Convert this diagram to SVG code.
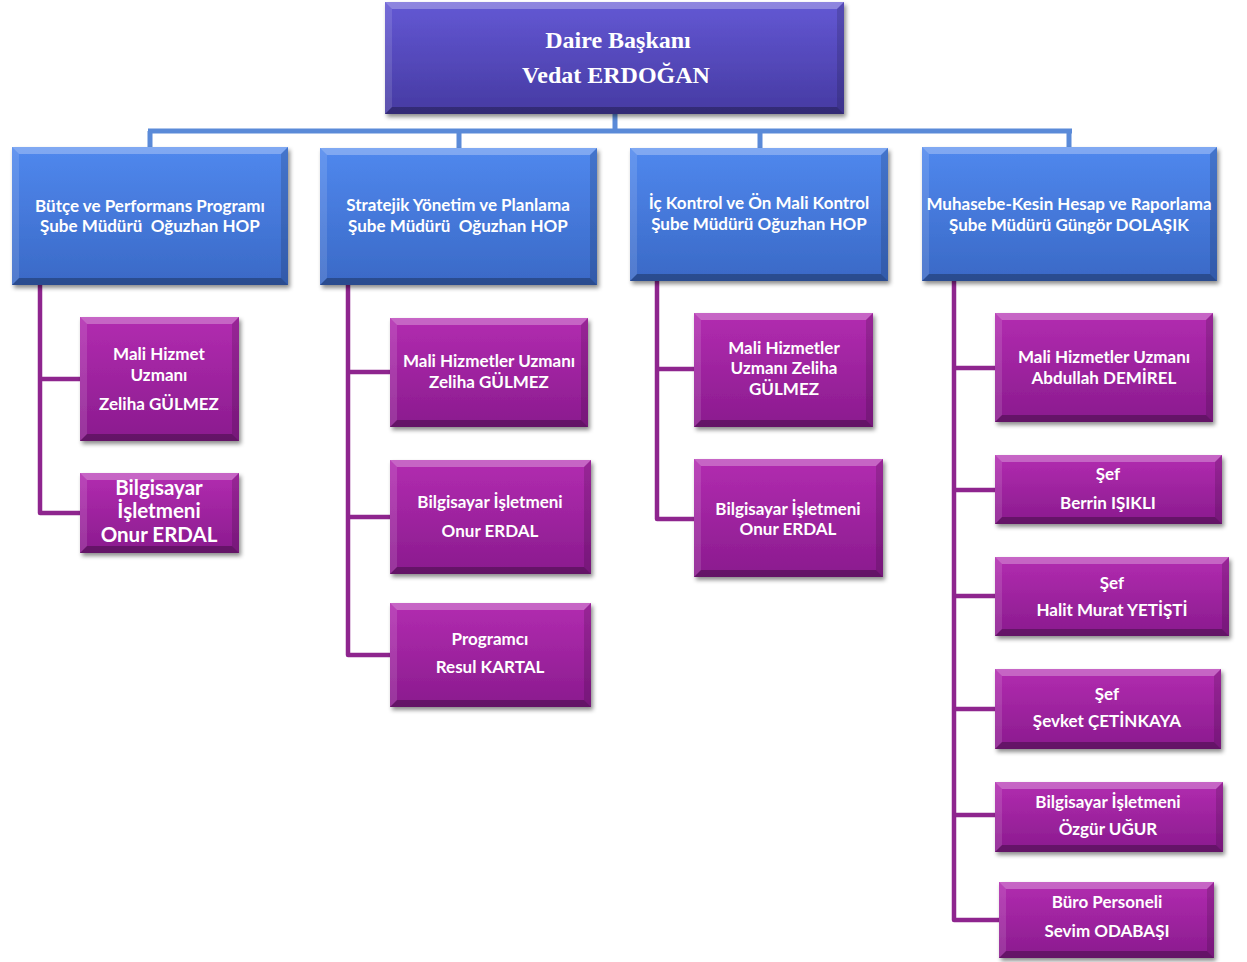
<svg xmlns="http://www.w3.org/2000/svg" width="1247" height="962" viewBox="0 0 1247 962">
<defs>
<linearGradient id="gTop" x1="0" y1="0" x2="0" y2="1"><stop offset="0" stop-color="#6358D4"/><stop offset="1" stop-color="#463AA2"/></linearGradient>
<linearGradient id="gBlue" x1="0" y1="0" x2="0" y2="1"><stop offset="0" stop-color="#5088EE"/><stop offset="1" stop-color="#3A69C6"/></linearGradient>
<linearGradient id="gPur" x1="0" y1="0" x2="0" y2="1"><stop offset="0" stop-color="#B22CB0"/><stop offset="1" stop-color="#8A1B8E"/></linearGradient>
<filter id="sh" x="-10%" y="-10%" width="125%" height="130%"><feDropShadow dx="2" dy="3" stdDeviation="2.2" flood-color="#000" flood-opacity="0.45"/></filter>
</defs>
<style>
.top rect{fill:url(#gTop)}
.blue rect{fill:url(#gBlue)}
.pur rect{fill:url(#gPur)}
.node rect{filter:url(#sh)}
.bt{fill:#fff;fill-opacity:0.28}
.bl{fill:#fff;fill-opacity:0.12}
.br{fill:#000;fill-opacity:0.14}
.bb{fill:#000;fill-opacity:0.28}
text{fill:#fff;text-anchor:middle;font-family:Lato,"Liberation Sans",sans-serif;font-weight:bold;font-size:17px}
.top text{font-family:"Liberation Serif","Times New Roman",serif;font-size:24px}
.big{font-size:20.5px}
.cb{fill:none;stroke:#5A8AD8;stroke-width:5}
.cp{fill:none;stroke:#8E258E;stroke-width:4.5;stroke-linejoin:round}
</style>

<g id="connectors">
<path class="cb" d="M615 114 V131 M148 131 H1072 M150 131 V147 M459 131 V148 M760 131 V148 M1069 131 V147"/>
<path class="cp" d="M40 285 V513 H80 M40 379 H80"/>
<path class="cp" d="M348 285 V655 H390 M348 372 H390 M348 517 H390"/>
<path class="cp" d="M657 281 V519 H694 M657 369 H694"/>
<path class="cp" d="M954 281 V920 H999 M954 368 H995 M954 490 H995 M954 596 H995 M954 709 H995 M954 815 H995"/>
</g>

<g id="daire" class="node top" transform="translate(385,2)">
<rect width="459" height="112"/>
<path class="bt" d="M0 0 h459 l-7 7 h-445 z"/><path class="bb" d="M0 112 h459 l-7 -7 h-445 z"/>
<path class="bl" d="M0 0 v112 l7 -7 v-98 z"/><path class="br" d="M459 0 v112 l-7 -7 v-98 z"/>
<text x="233" y="46">Daire Başkanı</text><text x="231" y="81">Vedat ERDOĞAN</text>
</g>

<g id="butce" class="node blue" transform="translate(12,147)">
<rect width="276" height="138"/>
<path class="bt" d="M0 0 h276 l-7 7 h-262 z"/><path class="bb" d="M0 138 h276 l-7 -7 h-262 z"/>
<path class="bl" d="M0 0 v138 l7 -7 v-124 z"/><path class="br" d="M276 0 v138 l-7 -7 v-124 z"/>
<text x="138" y="65">Bütçe ve Performans Programı</text><text x="138" y="85" xml:space="preserve">Şube Müdürü  Oğuzhan HOP</text>
</g>

<g id="stratejik" class="node blue" transform="translate(320,148)">
<rect width="277" height="137"/>
<path class="bt" d="M0 0 h277 l-7 7 h-263 z"/><path class="bb" d="M0 137 h277 l-7 -7 h-263 z"/>
<path class="bl" d="M0 0 v137 l7 -7 v-123 z"/><path class="br" d="M277 0 v137 l-7 -7 v-123 z"/>
<text x="138" y="63">Stratejik Yönetim ve Planlama</text><text x="138" y="84" xml:space="preserve">Şube Müdürü  Oğuzhan HOP</text>
</g>

<g id="ickontrol" class="node blue" transform="translate(630,148)">
<rect width="258" height="133"/>
<path class="bt" d="M0 0 h258 l-7 7 h-244 z"/><path class="bb" d="M0 133 h258 l-7 -7 h-244 z"/>
<path class="bl" d="M0 0 v133 l7 -7 v-119 z"/><path class="br" d="M258 0 v133 l-7 -7 v-119 z"/>
<text x="129" y="61">İç Kontrol ve Ön Mali Kontrol</text><text x="129" y="82">Şube Müdürü Oğuzhan HOP</text>
</g>

<g id="muhasebe" class="node blue" transform="translate(922,147)">
<rect width="295" height="134"/>
<path class="bt" d="M0 0 h295 l-7 7 h-281 z"/><path class="bb" d="M0 134 h295 l-7 -7 h-281 z"/>
<path class="bl" d="M0 0 v134 l7 -7 v-120 z"/><path class="br" d="M295 0 v134 l-7 -7 v-120 z"/>
<text x="147" y="63">Muhasebe-Kesin Hesap ve Raporlama</text><text x="147" y="84">Şube Müdürü Güngör DOLAŞIK</text>
</g>

<g id="p1a" class="node pur" transform="translate(80,317)">
<rect width="159" height="124"/>
<path class="bt" d="M0 0 h159 l-7 7 h-145 z"/><path class="bb" d="M0 124 h159 l-7 -7 h-145 z"/>
<path class="bl" d="M0 0 v124 l7 -7 v-110 z"/><path class="br" d="M159 0 v124 l-7 -7 v-110 z"/>
<text x="79" y="43">Mali Hizmet</text><text x="79" y="64">Uzmanı</text><text x="79" y="93">Zeliha GÜLMEZ</text>
</g>

<g id="p1b" class="node pur" transform="translate(80,473)">
<rect width="159" height="80"/>
<path class="bt" d="M0 0 h159 l-7 7 h-145 z"/><path class="bb" d="M0 80 h159 l-7 -7 h-145 z"/>
<path class="bl" d="M0 0 v80 l7 -7 v-66 z"/><path class="br" d="M159 0 v80 l-7 -7 v-66 z"/>
<text class="big" x="79" y="22">Bilgisayar</text><text class="big" x="79" y="45">İşletmeni</text><text class="big" x="79" y="69">Onur ERDAL</text>
</g>

<g id="p2a" class="node pur" transform="translate(390,318)">
<rect width="198" height="109"/>
<path class="bt" d="M0 0 h198 l-7 7 h-184 z"/><path class="bb" d="M0 109 h198 l-7 -7 h-184 z"/>
<path class="bl" d="M0 0 v109 l7 -7 v-95 z"/><path class="br" d="M198 0 v109 l-7 -7 v-95 z"/>
<text x="99" y="49">Mali Hizmetler Uzmanı</text><text x="99" y="70">Zeliha GÜLMEZ</text>
</g>

<g id="p2b" class="node pur" transform="translate(390,460)">
<rect width="201" height="114"/>
<path class="bt" d="M0 0 h201 l-7 7 h-187 z"/><path class="bb" d="M0 114 h201 l-7 -7 h-187 z"/>
<path class="bl" d="M0 0 v114 l7 -7 v-100 z"/><path class="br" d="M201 0 v114 l-7 -7 v-100 z"/>
<text x="100" y="48">Bilgisayar İşletmeni</text><text x="100" y="77">Onur ERDAL</text>
</g>

<g id="p2c" class="node pur" transform="translate(390,603)">
<rect width="201" height="104"/>
<path class="bt" d="M0 0 h201 l-7 7 h-187 z"/><path class="bb" d="M0 104 h201 l-7 -7 h-187 z"/>
<path class="bl" d="M0 0 v104 l7 -7 v-90 z"/><path class="br" d="M201 0 v104 l-7 -7 v-90 z"/>
<text x="100" y="42">Programcı</text><text x="100" y="70">Resul KARTAL</text>
</g>

<g id="p3a" class="node pur" transform="translate(694,313)">
<rect width="179" height="114"/>
<path class="bt" d="M0 0 h179 l-7 7 h-165 z"/><path class="bb" d="M0 114 h179 l-7 -7 h-165 z"/>
<path class="bl" d="M0 0 v114 l7 -7 v-100 z"/><path class="br" d="M179 0 v114 l-7 -7 v-100 z"/>
<text x="90" y="41">Mali Hizmetler</text><text x="90" y="61">Uzmanı Zeliha</text><text x="90" y="82">GÜLMEZ</text>
</g>

<g id="p3b" class="node pur" transform="translate(694,459)">
<rect width="189" height="118"/>
<path class="bt" d="M0 0 h189 l-7 7 h-175 z"/><path class="bb" d="M0 118 h189 l-7 -7 h-175 z"/>
<path class="bl" d="M0 0 v118 l7 -7 v-104 z"/><path class="br" d="M189 0 v118 l-7 -7 v-104 z"/>
<text x="94" y="56">Bilgisayar İşletmeni</text><text x="94" y="76">Onur ERDAL</text>
</g>

<g id="p4a" class="node pur" transform="translate(995,313)">
<rect width="218" height="109"/>
<path class="bt" d="M0 0 h218 l-7 7 h-204 z"/><path class="bb" d="M0 109 h218 l-7 -7 h-204 z"/>
<path class="bl" d="M0 0 v109 l7 -7 v-95 z"/><path class="br" d="M218 0 v109 l-7 -7 v-95 z"/>
<text x="109" y="50">Mali Hizmetler Uzmanı</text><text x="109" y="71">Abdullah DEMİREL</text>
</g>

<g id="p4b" class="node pur" transform="translate(995,455)">
<rect width="227" height="69"/>
<path class="bt" d="M0 0 h227 l-7 7 h-213 z"/><path class="bb" d="M0 69 h227 l-7 -7 h-213 z"/>
<path class="bl" d="M0 0 v69 l7 -7 v-55 z"/><path class="br" d="M227 0 v69 l-7 -7 v-55 z"/>
<text x="113" y="25">Şef</text><text x="113" y="54">Berrin IŞIKLI</text>
</g>

<g id="p4c" class="node pur" transform="translate(995,557)">
<rect width="234" height="79"/>
<path class="bt" d="M0 0 h234 l-7 7 h-220 z"/><path class="bb" d="M0 79 h234 l-7 -7 h-220 z"/>
<path class="bl" d="M0 0 v79 l7 -7 v-65 z"/><path class="br" d="M234 0 v79 l-7 -7 v-65 z"/>
<text x="117" y="32">Şef</text><text x="117" y="59">Halit Murat YETİŞTİ</text>
</g>

<g id="p4d" class="node pur" transform="translate(995,669)">
<rect width="226" height="80"/>
<path class="bt" d="M0 0 h226 l-7 7 h-212 z"/><path class="bb" d="M0 80 h226 l-7 -7 h-212 z"/>
<path class="bl" d="M0 0 v80 l7 -7 v-66 z"/><path class="br" d="M226 0 v80 l-7 -7 v-66 z"/>
<text x="112" y="31">Şef</text><text x="112" y="58">Şevket ÇETİNKAYA</text>
</g>

<g id="p4e" class="node pur" transform="translate(995,782)">
<rect width="228" height="70"/>
<path class="bt" d="M0 0 h228 l-7 7 h-214 z"/><path class="bb" d="M0 70 h228 l-7 -7 h-214 z"/>
<path class="bl" d="M0 0 v70 l7 -7 v-56 z"/><path class="br" d="M228 0 v70 l-7 -7 v-56 z"/>
<text x="113" y="26">Bilgisayar İşletmeni</text><text x="113" y="53">Özgür UĞUR</text>
</g>

<g id="p4f" class="node pur" transform="translate(999,882)">
<rect width="215" height="76"/>
<path class="bt" d="M0 0 h215 l-7 7 h-201 z"/><path class="bb" d="M0 76 h215 l-7 -7 h-201 z"/>
<path class="bl" d="M0 0 v76 l7 -7 v-62 z"/><path class="br" d="M215 0 v76 l-7 -7 v-62 z"/>
<text x="108" y="26">Büro Personeli</text><text x="108" y="55">Sevim ODABAŞI</text>
</g>
</svg>
